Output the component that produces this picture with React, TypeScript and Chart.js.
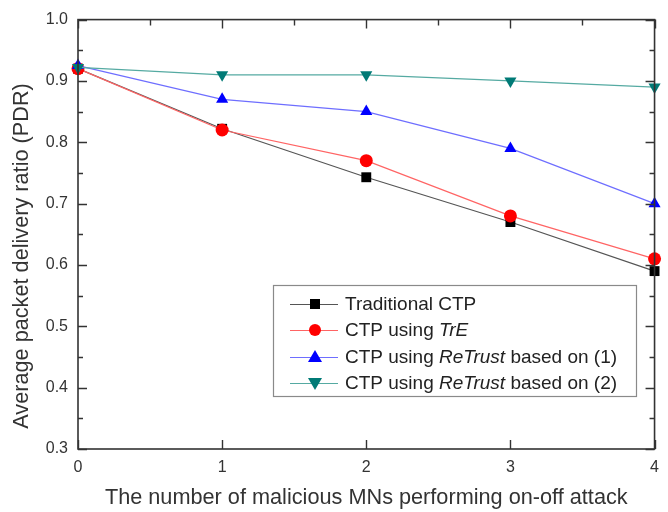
import React, { useEffect, useRef } from "react";
import { Chart, registerables } from "chart.js";

Chart.register(...registerables);

// Number of malicious MNs performing the on-off attack
const attackers = [0, 1, 2, 3, 4];

// Average packet delivery ratio for each scheme
const traditionalCtp = [0.92, 0.822, 0.743, 0.67, 0.59];
const ctpTrE = [0.92, 0.82, 0.77, 0.68, 0.61];
const ctpReTrust1 = [0.925, 0.87, 0.85, 0.79, 0.7];
const ctpReTrust2 = [0.922, 0.91, 0.91, 0.9, 0.89];

// Legend entries: [text, italic] segments
const legendTraditional: [string, boolean][] = [["Traditional CTP", false]];
const legendTrE: [string, boolean][] = [["CTP using ", false], ["TrE", true]];
const legendReTrust1: [string, boolean][] = [["CTP using ", false], ["ReTrust", true], [" based on (1)", false]];
const legendReTrust2: [string, boolean][] = [["CTP using ", false], ["ReTrust", true], [" based on (2)", false]];

const yTitle = "Average packet delivery ratio (PDR)";
const xTitle = "The number of malicious MNs performing on-off attack";

const FONT = "Arial, 'Liberation Sans', Helvetica, sans-serif";
const AXIS_COLOR = "#333333";
const TITLE_SIZE = 21.7;

type Marker = "square" | "circle" | "triangle" | "triangleDown";

function drawMarker(ctx: CanvasRenderingContext2D, kind: Marker, x: number, y: number, color: string) {
  ctx.save();
  ctx.fillStyle = color;
  ctx.beginPath();
  if (kind === "square") {
    ctx.rect(x - 5, y - 5, 10, 10);
  } else if (kind === "circle") {
    ctx.arc(x, y, 6, 0, Math.PI * 2);
  } else if (kind === "triangle") {
    ctx.moveTo(x, y - 7);
    ctx.lineTo(x + 7, y + 5);
    ctx.lineTo(x - 7, y + 5);
    ctx.closePath();
  } else {
    ctx.moveTo(x, y + 7);
    ctx.lineTo(x + 7, y - 5);
    ctx.lineTo(x - 7, y - 5);
    ctx.closePath();
  }
  ctx.fill();
  ctx.restore();
}

interface SeriesStyle {
  label: [string, boolean][];
  line: string;
  marker: string;
  kind: Marker;
}

const seriesStyles: SeriesStyle[] = [
  { label: legendTraditional, line: "#555555", marker: "#000000", kind: "square" },
  { label: legendTrE, line: "#ff6464", marker: "#ff0000", kind: "circle" },
  { label: legendReTrust1, line: "#6e6eff", marker: "#0000ff", kind: "triangle" },
  { label: legendReTrust2, line: "#55aaa2", marker: "#007a76", kind: "triangleDown" },
];

// Frame with inward ticks on all four sides, axis title on the left and the boxed legend
const framePlugin = {
  id: "frame",
  afterDatasetsDraw(chart: any) {
    const { ctx, chartArea: a, scales } = chart;
    const xs = scales.x;
    const ys = scales.y;
    ctx.save();
    ctx.strokeStyle = AXIS_COLOR;
    ctx.lineWidth = 1.6;
    ctx.strokeRect(a.left, a.top, a.right - a.left, a.bottom - a.top);

    ctx.lineWidth = 1.4;
    ctx.beginPath();
    // left and right ticks
    for (let i = 0; i <= 14; i++) {
      const v = 0.3 + i * 0.05;
      const py = Math.round(ys.getPixelForValue(v)) + 0.5;
      const len = i % 2 === 0 ? 9 : 5;
      ctx.moveTo(a.left, py);
      ctx.lineTo(a.left + len, py);
      ctx.moveTo(a.right, py);
      ctx.lineTo(a.right - len, py);
    }
    // bottom and top ticks
    for (let i = 0; i <= 8; i++) {
      const v = i * 0.5;
      const px = Math.round(xs.getPixelForValue(v)) + 0.5;
      const major = i % 2 === 0;
      if (major) {
        ctx.moveTo(px, a.bottom);
        ctx.lineTo(px, a.bottom - 9);
      }
      ctx.moveTo(px, a.top);
      ctx.lineTo(px, a.top + (major ? 9 : 6));
    }
    ctx.stroke();
    ctx.restore();
  },
  afterDraw(chart: any) {
    const { ctx } = chart;
    // y axis title
    ctx.save();
    ctx.fillStyle = AXIS_COLOR;
    ctx.font = `${TITLE_SIZE}px ${FONT}`;
    ctx.textAlign = "center";
    ctx.textBaseline = "middle";
    ctx.translate(22, 256);
    ctx.rotate(-Math.PI / 2);
    ctx.fillText(yTitle, 0, 0);
    ctx.restore();

    // legend box
    const boxL = 273, boxT = 285, boxR = 636, boxB = 396;
    ctx.save();
    ctx.fillStyle = "#ffffff";
    ctx.fillRect(boxL, boxT, boxR - boxL, boxB - boxT);
    ctx.strokeStyle = "#8a8a8a";
    ctx.lineWidth = 1.2;
    ctx.strokeRect(boxL + 0.5, boxT + 0.5, boxR - boxL, boxB - boxT);
    const rowY = [304, 330, 357, 383];
    seriesStyles.forEach((s, i) => {
      const y = rowY[i];
      ctx.strokeStyle = s.line;
      ctx.lineWidth = 1.2;
      ctx.beginPath();
      ctx.moveTo(290, y + 0.5);
      ctx.lineTo(338, y + 0.5);
      ctx.stroke();
      drawMarker(ctx, s.kind, 315, y, s.marker);
      let tx = 345;
      ctx.fillStyle = "#222222";
      ctx.textBaseline = "middle";
      ctx.textAlign = "left";
      for (const [text, italic] of s.label) {
        ctx.font = `${italic ? "italic " : ""}19px ${FONT}`;
        ctx.fillText(text, tx, y + 1);
        tx += ctx.measureText(text).width;
      }
    });
    ctx.restore();
  },
};

export default function App() {
  const canvasRef = useRef<HTMLCanvasElement | null>(null);

  useEffect(() => {
    document.body.style.margin = "0";
    const canvas = canvasRef.current;
    if (!canvas) return;
    const series = [traditionalCtp, ctpTrE, ctpReTrust1, ctpReTrust2];
    const pointStyles = ["rect", "circle", "triangle", "triangle"];
    const chart = new Chart(canvas, {
      type: "line",
      data: {
        datasets: series.map((values, i) => ({
          label: seriesStyles[i].label.map((p) => p[0]).join(""),
          data: attackers.map((x, j) => ({ x, y: values[j] })),
          borderColor: seriesStyles[i].line,
          backgroundColor: seriesStyles[i].marker,
          pointBackgroundColor: seriesStyles[i].marker,
          pointBorderColor: seriesStyles[i].marker,
          pointBorderWidth: 0,
          borderWidth: 1.2,
          pointStyle: pointStyles[i] as any,
          pointRadius: i === 0 ? 7 : i === 1 ? 6.5 : 7,
          pointRotation: i === 3 ? 180 : 0,
          tension: 0,
          clip: false as any,
          order: 4 - i,
        })),
      },
      options: {
        responsive: false,
        animation: false,
        events: [],
        layout: { padding: { top: 18, right: 3, left: 0, bottom: 0 } },
        plugins: {
          legend: { display: false },
          tooltip: { enabled: false },
        },
        scales: {
          x: {
            type: "linear",
            min: 0,
            max: 4,
            grid: { display: false, drawTicks: false },
            border: { display: false },
            ticks: {
              stepSize: 1,
              padding: 9,
              color: AXIS_COLOR,
              font: { family: FONT, size: 16 },
              callback: (v: any) => String(v),
            },
            title: {
              display: true,
              text: xTitle,
              color: AXIS_COLOR,
              font: { family: FONT, size: TITLE_SIZE },
              padding: { top: 0, bottom: 1 },
            },
            afterFit: (scale: any) => {
              scale.height = 63;
            },
          },
          y: {
            type: "linear",
            min: 0.3,
            max: 1.0,
            grid: { display: false, drawTicks: false },
            border: { display: false },
            ticks: {
              stepSize: 0.1,
              padding: 10,
              color: AXIS_COLOR,
              font: { family: FONT, size: 16 },
              callback: (v: any) => Number(v).toFixed(1),
            },
            afterFit: (scale: any) => {
              scale.width = 78;
            },
          },
        },
      },
      plugins: [framePlugin],
    });
    return () => chart.destroy();
  }, []);

  return (
    <div style={{ width: 668, height: 512, background: "#ffffff" }}>
      <canvas ref={canvasRef} width={668} height={512} />
    </div>
  );
}
